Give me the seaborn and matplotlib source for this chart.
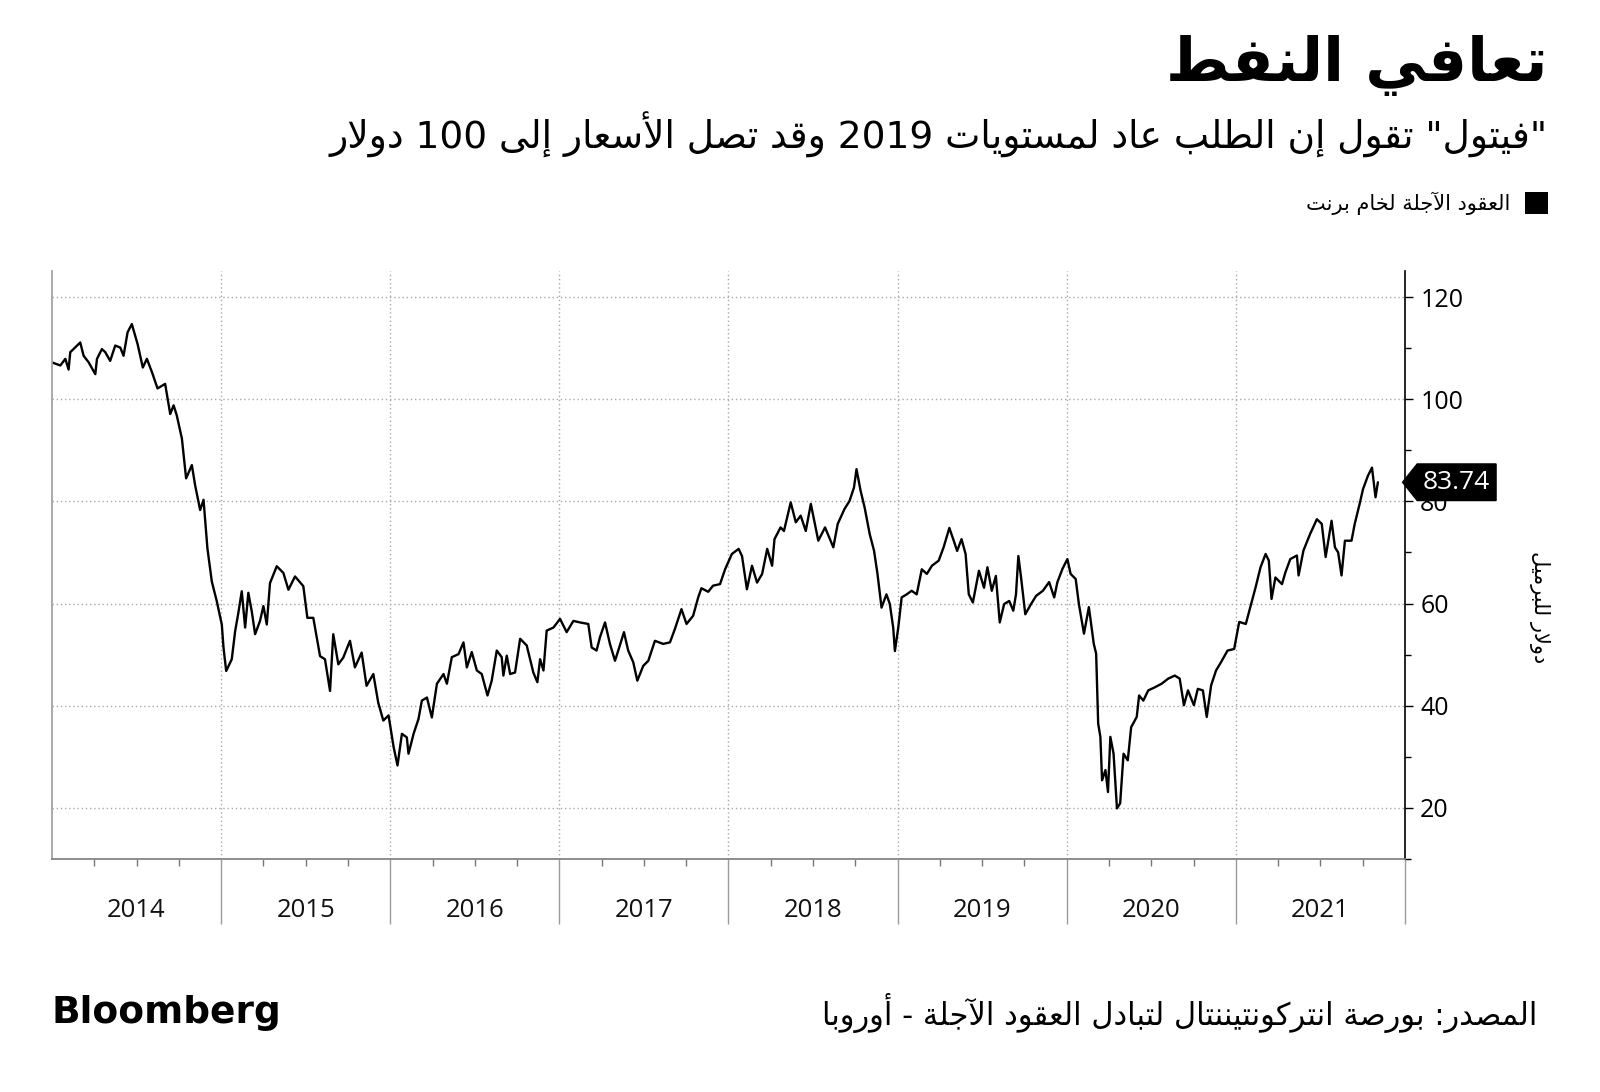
import re
import pandas as pd
import matplotlib.pyplot as plt
import seaborn as sns
from matplotlib.path import Path
from matplotlib.patches import Rectangle
from matplotlib.transforms import blended_transform_factory

# --- dados: Brent (USD/barril), leitura aproximada do gráfico ---
anos = [
    2014.000, 2014.049, 2014.079, 2014.098, 2014.108, 2014.148, 2014.167, 2014.187, 2014.217, 2014.256,
    2014.266, 2014.295, 2014.315, 2014.344, 2014.374, 2014.404, 2014.423, 2014.447, 2014.472, 2014.506,
    2014.537, 2014.561, 2014.591, 2014.624, 2014.669, 2014.699, 2014.719, 2014.738, 2014.768, 2014.793,
    2014.827, 2014.846, 2014.876, 2014.896, 2014.919, 2014.945, 2014.974, 2015.004, 2015.014, 2015.030,
    2015.063, 2015.083, 2015.102, 2015.122, 2015.142, 2015.161, 2015.181, 2015.201, 2015.230, 2015.250,
    2015.270, 2015.289, 2015.329, 2015.368, 2015.398, 2015.437, 2015.486, 2015.510, 2015.545, 2015.585,
    2015.614, 2015.644, 2015.663, 2015.693, 2015.722, 2015.762, 2015.791, 2015.831, 2015.860, 2015.900,
    2015.929, 2015.959, 2015.978, 2015.990, 2016.020, 2016.043, 2016.069, 2016.098, 2016.108, 2016.138,
    2016.167, 2016.187, 2016.217, 2016.246, 2016.276, 2016.315, 2016.335, 2016.364, 2016.404, 2016.433,
    2016.453, 2016.482, 2016.512, 2016.541, 2016.575, 2016.600, 2016.630, 2016.659, 2016.669, 2016.689,
    2016.709, 2016.738, 2016.768, 2016.807, 2016.846, 2016.870, 2016.886, 2016.906, 2016.925, 2016.965,
    2017.004, 2017.043, 2017.083, 2017.122, 2017.171, 2017.191, 2017.220, 2017.240, 2017.270, 2017.299,
    2017.329, 2017.354, 2017.382, 2017.407, 2017.437, 2017.461, 2017.496, 2017.526, 2017.565, 2017.614,
    2017.654, 2017.683, 2017.722, 2017.752, 2017.791, 2017.821, 2017.840, 2017.880, 2017.909, 2017.950,
    2017.980, 2018.020, 2018.060, 2018.080, 2018.109, 2018.139, 2018.169, 2018.199, 2018.229, 2018.258,
    2018.272, 2018.308, 2018.328, 2018.368, 2018.398, 2018.427, 2018.457, 2018.487, 2018.531, 2018.571,
    2018.596, 2018.620, 2018.646, 2018.686, 2018.716, 2018.742, 2018.757, 2018.781, 2018.805, 2018.835,
    2018.861, 2018.881, 2018.905, 2018.934, 2018.954, 2018.974, 2018.984, 2019.004, 2019.024, 2019.054,
    2019.083, 2019.113, 2019.143, 2019.173, 2019.203, 2019.243, 2019.272, 2019.306, 2019.332, 2019.352,
    2019.378, 2019.402, 2019.421, 2019.445, 2019.481, 2019.511, 2019.531, 2019.557, 2019.581, 2019.604,
    2019.630, 2019.660, 2019.684, 2019.700, 2019.714, 2019.730, 2019.755, 2019.789, 2019.819, 2019.859,
    2019.896, 2019.926, 2019.945, 2019.975, 2020.004, 2020.023, 2020.053, 2020.072, 2020.102, 2020.131,
    2020.160, 2020.174, 2020.186, 2020.199, 2020.209, 2020.229, 2020.244, 2020.258, 2020.277, 2020.297,
    2020.316, 2020.336, 2020.361, 2020.381, 2020.414, 2020.428, 2020.453, 2020.482, 2020.521, 2020.561,
    2020.600, 2020.639, 2020.668, 2020.693, 2020.717, 2020.752, 2020.775, 2020.805, 2020.828, 2020.854,
    2020.883, 2020.912, 2020.951, 2020.990, 2021.020, 2021.059, 2021.088, 2021.117, 2021.146, 2021.176,
    2021.195, 2021.211, 2021.234, 2021.273, 2021.293, 2021.322, 2021.361, 2021.371, 2021.400, 2021.439,
    2021.479, 2021.508, 2021.531, 2021.566, 2021.586, 2021.605, 2021.625, 2021.645, 2021.684, 2021.703,
    2021.732, 2021.752, 2021.781, 2021.805, 2021.826, 2021.840,
]
brent = [
    107.2, 106.6, 107.9, 105.8, 109.2, 110.5, 111.1, 108.5, 107.2, 104.9,
    107.9, 109.8, 109.2, 107.5, 110.5, 110.1, 108.5, 113.1, 114.7, 110.8,
    106.2, 107.9, 105.3, 102.1, 103.0, 97.1, 98.8, 96.8, 92.3, 84.5,
    87.1, 83.2, 78.3, 80.3, 70.8, 64.3, 60.5, 55.9, 51.4, 46.8,
    49.1, 54.6, 58.2, 62.4, 55.3, 62.1, 58.5, 54.0, 56.6, 59.5,
    55.9, 64.0, 67.3, 66.0, 62.7, 65.3, 63.4, 57.2, 57.2, 49.7,
    49.1, 42.9, 54.0, 48.1, 49.4, 52.7, 47.5, 50.4, 43.9, 46.2,
    40.6, 37.1, 37.7, 38.1, 31.9, 28.3, 34.5, 33.8, 30.6, 34.5,
    37.4, 41.0, 41.6, 37.7, 44.3, 46.2, 44.3, 49.5, 50.1, 52.4,
    47.5, 50.5, 46.9, 46.2, 42.0, 44.9, 50.8, 49.5, 45.9, 49.8,
    46.2, 46.5, 53.1, 51.8, 46.5, 44.6, 49.1, 46.9, 54.7, 55.3,
    57.0, 54.4, 56.6, 56.3, 56.0, 51.4, 50.8, 53.4, 56.3, 52.1,
    48.8, 51.4, 54.4, 50.8, 48.5, 44.9, 47.8, 48.8, 52.7, 52.1,
    52.4, 55.0, 58.9, 56.0, 57.6, 61.2, 63.0, 62.3, 63.5, 63.8,
    66.7, 69.7, 70.7, 69.3, 62.8, 67.4, 64.1, 65.8, 70.7, 67.4,
    72.6, 74.9, 74.2, 79.8, 75.9, 77.2, 74.2, 79.5, 72.3, 74.9,
    72.9, 71.0, 75.6, 78.5, 80.1, 82.7, 86.3, 82.1, 78.8, 73.6,
    70.3, 65.8, 59.2, 61.8, 59.9, 55.3, 50.7, 55.3, 61.2, 61.8,
    62.5, 61.8, 66.7, 65.8, 67.4, 68.4, 71.0, 74.8, 72.3, 70.3,
    72.6, 69.7, 61.8, 60.2, 66.4, 63.1, 67.1, 62.5, 65.4, 56.3,
    59.9, 60.5, 58.6, 61.8, 69.3, 65.1, 57.9, 59.9, 61.5, 62.5,
    64.2, 61.2, 64.2, 66.8, 68.7, 65.8, 64.8, 59.9, 54.1, 59.3,
    52.1, 50.2, 36.5, 33.9, 25.4, 27.4, 23.1, 33.9, 30.6, 19.9,
    20.9, 30.6, 29.3, 35.8, 37.8, 42.0, 41.0, 43.0, 43.6, 44.3,
    45.3, 45.9, 45.3, 40.1, 43.0, 40.1, 43.3, 43.0, 37.8, 44.0,
    46.9, 48.5, 50.8, 51.1, 56.4, 56.0, 59.6, 63.2, 67.1, 69.7,
    68.4, 60.9, 65.1, 63.8, 66.1, 68.7, 69.4, 65.5, 70.4, 73.6,
    76.5, 75.6, 69.1, 76.2, 71.0, 70.0, 65.5, 72.3, 72.3, 75.6,
    79.5, 82.4, 85.0, 86.6, 80.8, 83.74,
]
rotulos_anos = ['2014', '2015', '2016', '2017', '2018', '2019', '2020', '2021']
ticks_y = [20, 40, 60, 80, 100, 120]

titulo = 'تعافي النفط'
subtitulo = '"فيتول" تقول إن الطلب عاد لمستويات 2019 وقد تصل الأسعار إلى 100 دولار'
legenda = 'العقود الآجلة لخام برنت'
eixo_y = 'دولار للبرميل'
fonte = 'المصدر: بورصة انتركونتيننتال لتبادل العقود الآجلة - أوروبا'

# --- árabe: matplotlib não faz shaping, então montamos as formas à mão ---
AR_FORMS = {
    0x621: (0xFE80, 1), 0x622: (0xFE81, 2), 0x623: (0xFE83, 2), 0x624: (0xFE85, 2),
    0x625: (0xFE87, 2), 0x626: (0xFE89, 4), 0x627: (0xFE8D, 2), 0x628: (0xFE8F, 4),
    0x629: (0xFE93, 2), 0x62A: (0xFE95, 4), 0x62B: (0xFE99, 4), 0x62C: (0xFE9D, 4),
    0x62D: (0xFEA1, 4), 0x62E: (0xFEA5, 4), 0x62F: (0xFEA9, 2), 0x630: (0xFEAB, 2),
    0x631: (0xFEAD, 2), 0x632: (0xFEAF, 2), 0x633: (0xFEB1, 4), 0x634: (0xFEB5, 4),
    0x635: (0xFEB9, 4), 0x636: (0xFEBD, 4), 0x637: (0xFEC1, 4), 0x638: (0xFEC5, 4),
    0x639: (0xFEC9, 4), 0x63A: (0xFECD, 4), 0x641: (0xFED1, 4), 0x642: (0xFED5, 4),
    0x643: (0xFED9, 4), 0x644: (0xFEDD, 4), 0x645: (0xFEE1, 4), 0x646: (0xFEE5, 4),
    0x647: (0xFEE9, 4), 0x648: (0xFEED, 2), 0x649: (0xFEEF, 2), 0x64A: (0xFEF1, 4),
}
LAM_ALEF = {0x622: 0xFEF5, 0x623: 0xFEF7, 0x625: 0xFEF9, 0x627: 0xFEFB}


def _liga_depois(u):
    return isinstance(u, str) and ord(u) in AR_FORMS and AR_FORMS[ord(u)][1] == 4


def _liga_antes(u):
    if isinstance(u, tuple):
        return True
    return isinstance(u, str) and ord(u) in AR_FORMS and AR_FORMS[ord(u)][1] >= 2


def ar(texto):
    unidades = []
    i = 0
    while i < len(texto):
        c = texto[i]
        if c == '\u0644' and i + 1 < len(texto) and ord(texto[i + 1]) in LAM_ALEF:
            unidades.append(('la', texto[i + 1]))
            i += 2
        else:
            unidades.append(c)
            i += 1
    saida = []
    for k, u in enumerate(unidades):
        ant = unidades[k - 1] if k > 0 else None
        prox = unidades[k + 1] if k + 1 < len(unidades) else None
        p = ant is not None and _liga_depois(ant)
        if isinstance(u, tuple):
            saida.append(chr(LAM_ALEF[ord(u[1])] + (1 if p else 0)))
            continue
        if ord(u) not in AR_FORMS:
            saida.append(u)
            continue
        base, n = AR_FORMS[ord(u)]
        nx = n == 4 and prox is not None and _liga_antes(prox)
        if n == 1:
            ch = base
        elif n == 2:
            ch = base + 1 if p else base
        else:
            ch = base + (3 if (p and nx) else 1 if p else 2 if nx else 0)
        saida.append(chr(ch))
    s = ''.join(saida)
    partes = re.findall(r'\d+|\D+', s)
    return ''.join(t if t[0].isdigit() else t[::-1] for t in reversed(partes))


def caixa_seta(x0, y0, width, height, mutation_size):
    pad = 0.22 * mutation_size
    x0, y0 = x0 - pad, y0 - pad
    x1, y1 = x0 + width + 2 * pad, y0 + height + 2 * pad
    ponta = (y1 - y0) * 0.4
    ym = (y0 + y1) / 2
    return Path([(x0 - ponta, ym), (x0, y0), (x1, y0), (x1, y1), (x0, y1), (x0 - ponta, ym)],
                closed=True)


sns.set_theme(style="white")
plt.rcParams['font.family'] = ['DejaVu Sans']
plt.rcParams['text.color'] = 'black'
plt.rcParams['axes.labelcolor'] = 'black'

df = pd.DataFrame({'ano': anos, 'brent': brent})

fig = plt.figure(figsize=(16, 10.92), dpi=100)
ax = fig.add_axes([0.0325, 0.2134, 0.8456, 0.538])

sns.lineplot(data=df, x='ano', y='brent', color='black', lw=1.7, ax=ax)

ax.set_xlim(2014, 2022)
ax.set_ylim(10, 125)
ax.set_xlabel('')
ax.set_ylabel('')

# eixo y à direita
ax.yaxis.tick_right()
ax.set_yticks(ticks_y)
ax.set_yticks(range(10, 125, 10), minor=True)
ax.set_yticklabels([str(t) for t in ticks_y], family='Open Sans', fontsize=18)
ax.tick_params(axis='y', which='both', right=True, left=False)
ax.tick_params(axis='y', which='major', length=6, width=1, color='black', pad=5, labelcolor='black')
ax.tick_params(axis='y', which='minor', length=4, width=1, color='black')

# eixo x: anos com linhas separadoras e trimestres
ax.set_xticks(range(2015, 2023))
ax.set_xticklabels([''] * 8)
ax.set_xticks([a + q / 4 for a in range(2014, 2022) for q in range(1, 4)], minor=True)
ax.tick_params(axis='x', which='both', bottom=True, top=False)
ax.tick_params(axis='x', which='major', length=47, width=1, color='#9a9a9a', direction='out')
ax.tick_params(axis='x', which='minor', length=5, width=1, color='#777777', direction='out')

trans_x = blended_transform_factory(ax.transData, ax.transAxes)
for i, r in enumerate(rotulos_anos):
    ax.text(2014.5 + i, -0.087, r, transform=trans_x, ha='center', va='center',
            family='Open Sans', fontsize=18.5, color='#111111')

ax.grid(True, which='major', axis='both', color='#a8a8a8', lw=1, linestyle=(0, (1, 2)))

ax.spines['top'].set_visible(False)
ax.spines['left'].set_color('#a0a0a0')
ax.spines['bottom'].set_color('#808080')
ax.spines['right'].set_color('black')
ax.spines['right'].set_linewidth(1.2)

# último valor
trans_y = blended_transform_factory(ax.transAxes, ax.transData)
ax.annotate(f"{brent[-1]:.2f}", xy=(1, brent[-1]), xycoords=trans_y,
            xytext=(13, 0), textcoords='offset points', ha='left', va='center',
            family='Open Sans', fontsize=19, color='white', annotation_clip=False,
            bbox=dict(boxstyle=caixa_seta, fc='black', ec='black'))

# textos
fig.text(0.9675, 0.9396, ar(titulo), ha='right', va='center', fontsize=44, fontweight='bold')
fig.text(0.9675, 0.8764, ar(subtitulo), ha='right', va='center', fontsize=27)
fig.patches.append(Rectangle((0.9531, 0.804), 0.0144, 0.0201, transform=fig.transFigure,
                             fc='black', ec='none'))
fig.text(0.9438, 0.8141, ar(legenda), ha='right', va='center', fontsize=15)
fig.text(0.962, 0.444, ar(eixo_y), ha='center', va='center', rotation=270, fontsize=15)
fig.text(0.961, 0.0723, ar(fonte), ha='right', va='center', fontsize=22)
fig.text(0.032, 0.0723, 'Bloomberg', ha='left', va='center', fontsize=27, fontweight='bold',
         family=['Liberation Sans Narrow', 'DejaVu Sans'])

fig.savefig('out.png', dpi=100, facecolor='white')
